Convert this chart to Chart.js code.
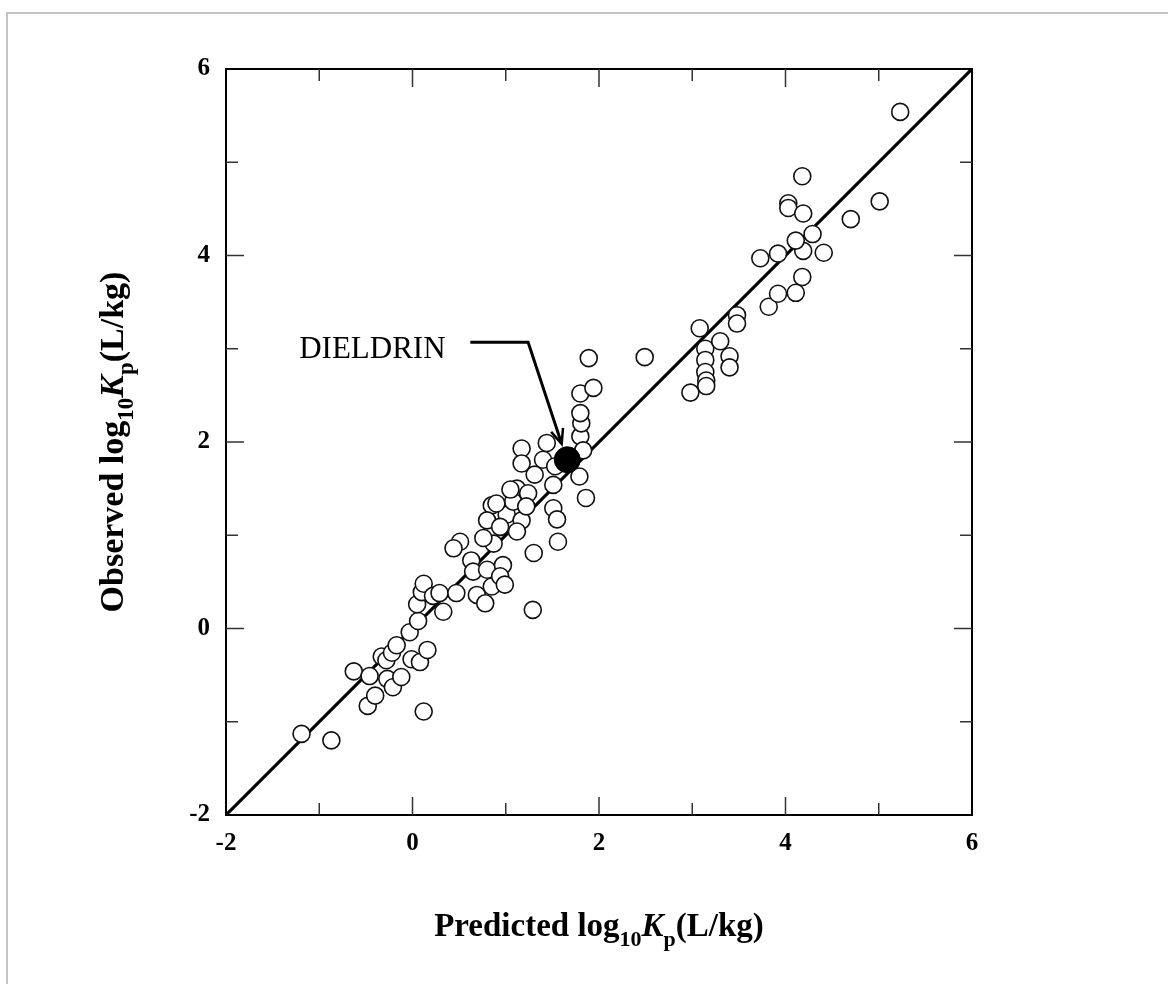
<!DOCTYPE html>
<html>
<head>
<meta charset="utf-8">
<script src="https://cdn.jsdelivr.net/npm/chart.js@4.4.1/dist/chart.umd.min.js"></script>
<style>
  body { margin: 0; background: #fff; }
  #wrap { position: relative; width: 1168px; height: 984px; }
</style>
</head>
<body>
<div id="wrap"><canvas id="kpChart" width="1168" height="984"></canvas></div>
<script>
// predicted vs observed log10 Kp (L/kg)
const predicted = [
  -1.19, -0.87, -0.63, -0.48, -0.40, -0.46, -0.33, -0.27, -0.28, -0.22, -0.17, -0.21, -0.12,
  -0.01, 0.08, 0.16, 0.12, -0.03, 0.06, 0.05, 0.10, 0.12, 0.22, 0.29, 0.33, 0.47,
  0.63, 0.69, 0.78, 0.65, 0.85, 0.80, 0.97, 0.94, 0.99, 0.87, 0.76, 0.51, 0.44,
  0.85, 0.80, 1.01, 0.94, 1.17, 1.12, 1.12, 1.24, 1.17, 1.17, 1.44, 1.40, 1.31, 1.53,
  1.51, 1.51, 1.55, 1.56, 1.30, 1.29, 1.79, 1.86, 1.80, 1.81, 1.80, 1.83, 1.80, 1.94,
  1.89, 2.49, 1.08, 1.22, 0.90, 1.05,
  3.08, 3.14, 3.14, 3.14, 3.15, 3.15, 2.98, 3.30, 3.40, 3.40, 3.48, 3.48,
  3.82, 3.92, 4.11, 4.18, 3.73, 3.92, 4.19, 4.11, 4.29, 4.41, 4.70, 5.01,
  4.03, 4.03, 4.19, 4.18, 5.23
];
const observed = [
  -1.13, -1.20, -0.46, -0.83, -0.72, -0.51, -0.30, -0.54, -0.34, -0.26, -0.18, -0.63, -0.52,
  -0.33, -0.36, -0.23, -0.89, -0.04, 0.08, 0.26, 0.39, 0.48, 0.35, 0.38, 0.18, 0.38,
  0.73, 0.36, 0.27, 0.61, 0.45, 0.63, 0.68, 0.56, 0.47, 0.91, 0.97, 0.93, 0.86,
  1.32, 1.16, 1.22, 1.09, 1.16, 1.04, 1.50, 1.45, 1.93, 1.77, 1.99, 1.81, 1.65, 1.74,
  1.54, 1.29, 1.17, 0.93, 0.81, 0.20, 1.63, 1.40, 2.06, 2.20, 2.31, 1.91, 2.52, 2.58,
  2.90, 2.91, 1.36, 1.31, 1.34, 1.49,
  3.22, 3.00, 2.88, 2.75, 2.66, 2.60, 2.53, 3.08, 2.92, 2.80, 3.36, 3.27,
  3.45, 3.59, 3.60, 3.77, 3.97, 4.02, 4.05, 4.16, 4.23, 4.03, 4.39, 4.58,
  4.56, 4.51, 4.45, 4.85, 5.54
];
const dieldrinPred = [1.66];
const dieldrinObs = [1.81];
const lineX = [-2, 6];
const lineY = [-2, 6];
const majorTicks = [-2, 0, 2, 4, 6];
const minorTicks = [-1, 1, 3, 5];

const serif = '"Liberation Serif", "Times New Roman", serif';

const toPoints = (xs, ys) => xs.map((x, i) => ({ x: x, y: ys[i] }));

// draws text made of pieces, some subscript / italic, centred on 0
function drawRich(ctx, parts, size) {
  const fontOf = p => (p.ital ? 'italic ' : '') + 'bold ' + (p.sub ? Math.round(size * 0.68) : size) + 'px ' + serif;
  let total = 0;
  parts.forEach(p => { ctx.font = fontOf(p); total += ctx.measureText(p.t).width; });
  let x = -total / 2;
  parts.forEach(p => {
    ctx.font = fontOf(p);
    ctx.fillText(p.t, x, p.sub ? size * 0.3 : 0);
    x += ctx.measureText(p.t).width;
  });
}

const titleTail = [
  { t: 'log' }, { t: '10', sub: true }, { t: 'K', ital: true }, { t: 'p', sub: true }, { t: '(L/kg)' }
];

const framePlugin = {
  id: 'frame',
  beforeDraw(chart) {
    const ctx = chart.ctx;
    ctx.save();
    ctx.strokeStyle = '#c4c4c4';
    ctx.lineWidth = 2;
    ctx.beginPath();
    ctx.moveTo(7, 984);
    ctx.lineTo(7, 13);
    ctx.lineTo(1168, 13);
    ctx.stroke();
    ctx.restore();
  },
  afterDatasetsDraw(chart) {
    const ctx = chart.ctx;
    const a = chart.chartArea;
    const xs = chart.scales.x, ys = chart.scales.y;
    ctx.save();
    // box
    ctx.strokeStyle = '#000';
    ctx.lineWidth = 2;
    ctx.strokeRect(a.left, a.top, a.right - a.left, a.bottom - a.top);

    // inward ticks on all four sides
    ctx.strokeStyle = '#333';
    ctx.lineWidth = 1.5;
    const tick = (v, len) => {
      const px = xs.getPixelForValue(v), py = ys.getPixelForValue(v);
      ctx.beginPath();
      ctx.moveTo(px, a.bottom); ctx.lineTo(px, a.bottom - len);
      ctx.moveTo(px, a.top); ctx.lineTo(px, a.top + len);
      ctx.moveTo(a.left, py); ctx.lineTo(a.left + len, py);
      ctx.moveTo(a.right, py); ctx.lineTo(a.right - len, py);
      ctx.stroke();
    };
    majorTicks.slice(1, -1).forEach(v => tick(v, 18));
    minorTicks.forEach(v => tick(v, 12));

    // DIELDRIN label and arrow
    ctx.fillStyle = '#000';
    ctx.font = '31px ' + serif;
    ctx.textAlign = 'center';
    ctx.textBaseline = 'alphabetic';
    ctx.fillText('DIELDRIN', xs.getPixelForValue(-0.43), ys.getPixelForValue(2.90));

    const p0 = [xs.getPixelForValue(0.62), ys.getPixelForValue(3.07)];
    const p1 = [xs.getPixelForValue(1.24), ys.getPixelForValue(3.07)];
    const p2 = [xs.getPixelForValue(1.60), ys.getPixelForValue(1.98)];
    ctx.strokeStyle = '#000';
    ctx.lineWidth = 3;
    ctx.beginPath();
    ctx.moveTo(p0[0], p0[1]); ctx.lineTo(p1[0], p1[1]); ctx.lineTo(p2[0], p2[1]);
    ctx.stroke();
    const ang = Math.atan2(p2[1] - p1[1], p2[0] - p1[0]);
    ctx.lineWidth = 2.5;
    ctx.beginPath();
    ctx.moveTo(p2[0] - 16 * Math.cos(ang - 0.4), p2[1] - 16 * Math.sin(ang - 0.4));
    ctx.lineTo(p2[0], p2[1]);
    ctx.lineTo(p2[0] - 16 * Math.cos(ang + 0.4), p2[1] - 16 * Math.sin(ang + 0.4));
    ctx.stroke();

    // axis titles
    ctx.textAlign = 'left';
    ctx.save();
    ctx.translate((a.left + a.right) / 2, 936);
    drawRich(ctx, [{ t: 'Predicted ' }].concat(titleTail), 33);
    ctx.restore();
    ctx.save();
    ctx.translate(123, (a.top + a.bottom) / 2);
    ctx.rotate(-Math.PI / 2);
    drawRich(ctx, [{ t: 'Observed ' }].concat(titleTail), 34);
    ctx.restore();

    ctx.restore();
  }
};

new Chart(document.getElementById('kpChart'), {
  type: 'scatter',
  data: {
    datasets: [
      {
        label: 'Dieldrin',
        data: toPoints(dieldrinPred, dieldrinObs),
        pointRadius: 13,
        pointBackgroundColor: '#000',
        pointBorderColor: '#000',
        pointBorderWidth: 1,
        order: 1
      },
      {
        label: 'Chemicals',
        data: toPoints(predicted, observed),
        pointRadius: 8.5,
        pointBackgroundColor: '#fff',
        pointBorderColor: '#111',
        pointBorderWidth: 1.6,
        order: 2
      },
      {
        label: '1:1',
        type: 'line',
        data: toPoints(lineX, lineY),
        borderColor: '#000',
        borderWidth: 3.2,
        pointRadius: 0,
        fill: false,
        order: 3
      }
    ]
  },
  options: {
    responsive: false,
    animation: false,
    layout: { padding: { top: 69, right: 196, left: 0, bottom: 0 } },
    plugins: {
      legend: { display: false },
      tooltip: { enabled: false }
    },
    scales: {
      x: {
        type: 'linear',
        min: -2,
        max: 6,
        afterFit: s => { s.height = 169; },
        afterBuildTicks: s => { s.ticks = majorTicks.map(v => ({ value: v })); },
        ticks: { color: '#000', padding: 14, font: { family: serif, size: 25, weight: 'bold' } },
        grid: { display: false, drawTicks: false },
        border: { display: false }
      },
      y: {
        type: 'linear',
        min: -2,
        max: 6,
        afterFit: s => { s.width = 226; },
        afterBuildTicks: s => { s.ticks = majorTicks.map(v => ({ value: v })); },
        ticks: { color: '#000', padding: 16, font: { family: serif, size: 25, weight: 'bold' } },
        grid: { display: false, drawTicks: false },
        border: { display: false }
      }
    }
  },
  plugins: [framePlugin]
});
</script>
</body>
</html>
